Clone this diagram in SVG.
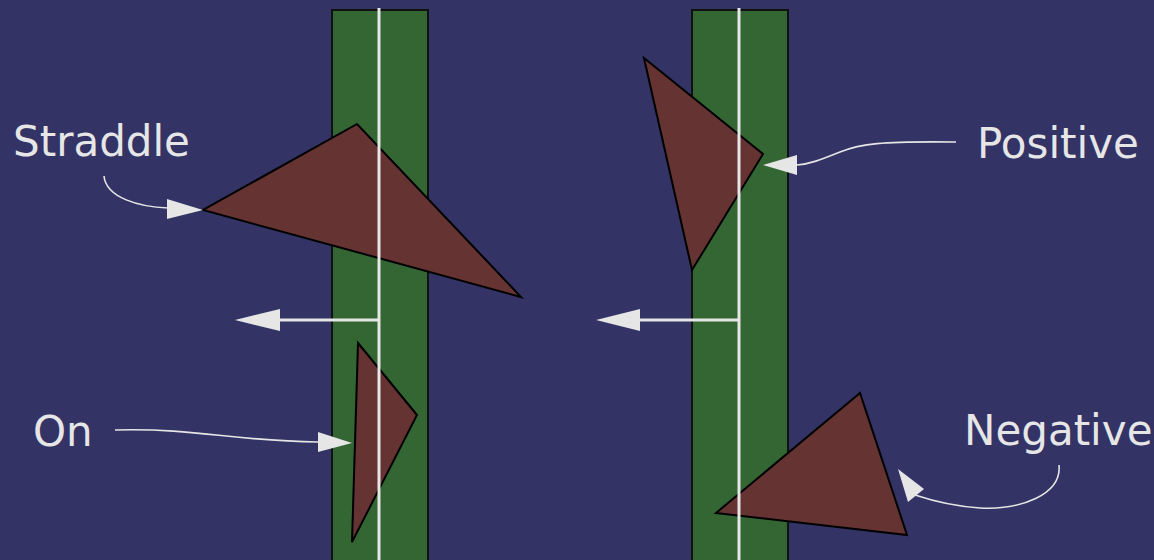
<svg xmlns="http://www.w3.org/2000/svg" width="1154" height="560" viewBox="0 0 1154 560">
<style>
.bar{fill:#336633;stroke:#111;stroke-width:2}
.axis{stroke:#e6e6e6;stroke-width:3;fill:none}
.tri{fill:#663333;stroke:#000;stroke-width:2;stroke-linejoin:miter}
.lbl{font-family:"DejaVu Sans",sans-serif;font-size:42px;fill:#e6e6e6}
.con{stroke:#e6e6e6;stroke-width:1.6;fill:none}
.nrm{stroke:#e6e6e6;stroke-width:3;fill:none}
</style>
<rect width="1154" height="560" fill="#333366"/>
<g id="plane-left">
<rect class="bar" x="332" y="10" width="96" height="560"/>
</g>
<g id="plane-right">
<rect class="bar" x="692" y="10" width="96" height="560"/>
</g>
<g id="tri-straddle"><polygon class="tri" points="357,124 203,210 521,297"/></g>
<g id="tri-on"><polygon class="tri" points="358,343 417,415 352,542"/></g>
<g id="tri-positive"><polygon class="tri" points="644,58 763,154 692,270"/></g>
<g id="tri-negative"><polygon class="tri" points="860,393 716,513 907,535"/></g>
<g id="axis-left"><line class="axis" x1="379" y1="8" x2="379" y2="560"/></g>
<g id="axis-right"><line class="axis" x1="739" y1="8" x2="739" y2="560"/></g>
<g id="label-straddle"><text class="lbl" x="13" y="156">Straddle</text></g>
<g id="label-on"><text class="lbl" x="33" y="446">On</text></g>
<g id="label-positive"><text class="lbl" x="977" y="158">Positive</text></g>
<g id="label-negative"><text class="lbl" x="964" y="445">Negative</text></g>
<g id="connectors">
<path class="nrm" d="M379,320 H280"/>
<path d="M235,320 L280,309 L280,331 Z" fill="#e6e6e6"/>
<path class="nrm" d="M739,320 H640"/>
<path d="M596,320 L640,309 L640,331 Z" fill="#e6e6e6"/>
<path class="con" d="M104,176 C106,198 140,207 168,208"/>
<path d="M203,210 L167,199 L167,219 Z" fill="#e6e6e6"/>
<path class="con" d="M115,430 C200,428 230,441 318,442"/>
<path d="M352,443 L318,432 L318,452 Z" fill="#e6e6e6"/>
<path class="con" d="M956,142 C880,141 860,144 840,152 C820,160 810,164 797,165"/>
<path d="M763,165 L797,155 L797,175 Z" fill="#e6e6e6"/>
<path class="con" d="M1059,465 C1062,495 1020,510 980,508 C950,506 930,500 915,495"/>
<path d="M898,469 L924,489 L908,502 Z" fill="#e6e6e6"/>
</g>
</svg>
